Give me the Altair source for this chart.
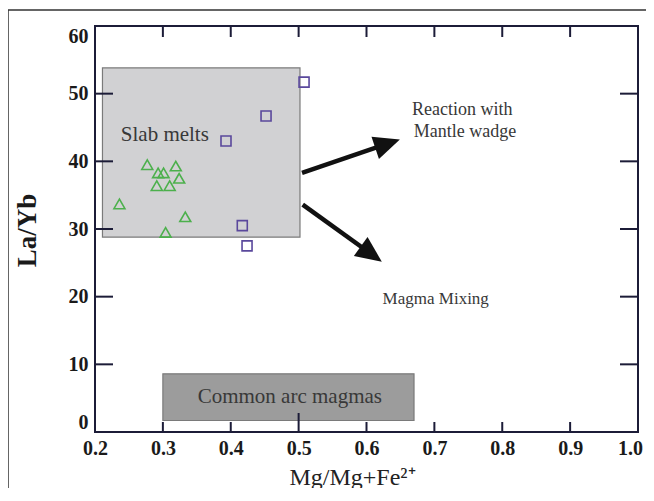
import altair as alt
import pandas as pd

W, H = 543, 406
FONT = "Liberation Serif"
AXC = "#1c1c38"

# --- data ---
tri_x = [0.277, 0.293, 0.301, 0.319, 0.324, 0.291, 0.310, 0.236, 0.333, 0.304]
tri_y = [39.5, 38.3, 38.3, 39.3, 37.5, 36.4, 36.4, 33.7, 31.8, 29.5]
sq_x = [0.508, 0.452, 0.393, 0.417, 0.424]
sq_y = [51.7, 46.7, 43.0, 30.5, 27.5]

box_names = ["Slab melts", "Common arc magmas"]
box_x1 = [0.211, 0.300]
box_x2 = [0.502, 0.670]
box_y1 = [28.8, 1.7]
box_y2 = [53.8, 8.6]
box_fill = ["#d1d1d3", "#9c9c9c"]

arrow_x0 = [0.505, 0.506]
arrow_y0 = [38.3, 33.6]
arrow_hx = [0.631, 0.607]
arrow_hy = [42.6, 26.3]
arrow_angle = [341.4, 35.8]

lab_text = ["Reaction with", "Mantle wadge", "Magma Mixing", "Common arc magmas"]
lab_x = [0.741, 0.745, 0.702, 0.487]
lab_y = [47.6, 44.4, 19.6, 5.2]
lab_size = [18, 18, 17, 21]

x_ticks = [0.2, 0.3, 0.4, 0.5, 0.6, 0.7, 0.8, 0.9, 1.0]
y_ticks = [0, 10, 20, 30, 40, 50, 60]
x_inner = [0.3, 0.4, 0.6, 0.7, 0.8, 0.9]
x_inner_long = [0.5]
x_top = [0.3, 0.4, 0.5, 0.6, 0.7, 0.8, 0.9]
y_inner = [10, 20, 30, 40, 50]

xs = alt.Scale(domain=[0.2, 1.0], nice=False, zero=False)
ys = alt.Scale(domain=[0, 60], nice=False, zero=False)

x_axis = alt.Axis(values=x_ticks, format=".1f", ticks=False, domain=False, grid=False,
                  labelFont=FONT, labelFontSize=20, labelFontWeight="bold",
                  labelColor="#1a1a1a", labelPadding=6, labelFlush=False,
                  labelOffset={"condition": {"test": "datum.value >= 0.99", "value": -8},
                               "value": 0},
                  title="Mg/Mg+Fe²⁺", titleFont=FONT, titleFontSize=24,
                  titleFontWeight="normal", titleColor="#222222",
                  titleX=257, titleY=52, titleAlign="center", titleBaseline="alphabetic")
y_axis = alt.Axis(values=y_ticks, format="d", ticks=False, domain=False, grid=False,
                  labelFont=FONT, labelFontSize=20, labelFontWeight="bold",
                  labelColor="#1a1a1a", labelPadding=7, labelFlush=True,
                  title="La/Yb", titleFont=FONT, titleFontSize=27,
                  titleFontWeight="bold", titleColor="#1a1a1a",
                  titleX=-68, titleY=204, titleAngle=270, titleAlign="center",
                  titleBaseline="middle")


def X(f):
    return alt.X(f, scale=xs, axis=x_axis)


def Y(f):
    return alt.Y(f, scale=ys, axis=y_axis)


boxes = pd.DataFrame({"name": box_names, "x1": box_x1, "x2": box_x2,
                      "y1": box_y1, "y2": box_y2, "fill": box_fill})
tri = pd.DataFrame({"x": tri_x, "y": tri_y})
sq = pd.DataFrame({"x": sq_x, "y": sq_y})
arrows = pd.DataFrame({"x0": arrow_x0, "y0": arrow_y0, "hx": arrow_hx,
                       "hy": arrow_hy, "a": arrow_angle})
labels = pd.DataFrame({"t": lab_text, "x": lab_x, "y": lab_y, "s": lab_size})
slab = pd.DataFrame({"t": ["Slab melts"], "x": [0.238], "y": [43.9]})

rects = alt.Chart(boxes).mark_rect(stroke="#7a7a7a", strokeWidth=1.2).encode(
    x=X("x1:Q"), x2="x2:Q", y=Y("y1:Q"), y2="y2:Q",
    fill=alt.Fill("fill:N", scale=None),
)

tri_layer = alt.Chart(tri).mark_point(shape="triangle-up", filled=False, size=120,
                                      strokeWidth=1.6, color="#4cb04c", opacity=1).encode(
    x=X("x:Q"), y=Y("y:Q"))
sq_layer = alt.Chart(sq).mark_point(shape="square", filled=False, size=100,
                                    strokeWidth=1.6, color="#5a489c", opacity=1).encode(
    x=X("x:Q"), y=Y("y:Q"))

shafts = alt.Chart(arrows).mark_rule(color="#111111", strokeWidth=4.5).encode(
    x=X("x0:Q"), y=Y("y0:Q"), x2="hx:Q", y2="hy:Q")
heads = alt.Chart(arrows).mark_point(shape="M1,0L-1,-0.9L-1,0.9Z", filled=True,
                                     size=676, color="#111111", opacity=1).encode(
    x=X("hx:Q"), y=Y("hy:Q"), angle=alt.Angle("a:Q", scale=None))

text_c = alt.Chart(labels).mark_text(font=FONT, color="#383838", align="center",
                                     baseline="middle").encode(
    x=X("x:Q"), y=Y("y:Q"), text="t:N", size=alt.Size("s:Q", scale=None))
text_l = alt.Chart(slab).mark_text(font=FONT, color="#383838", align="left",
                                   baseline="middle", fontSize=21).encode(
    x=X("x:Q"), y=Y("y:Q"), text="t:N")


def vt(vals):
    return pd.DataFrame({"v": vals})


tb = alt.Chart(vt(x_inner)).mark_rule(color=AXC, strokeWidth=2).encode(
    x=X("v:Q"), y=alt.value(H), y2=alt.value(H - 10))
tbl = alt.Chart(vt(x_inner_long)).mark_rule(color=AXC, strokeWidth=2).encode(
    x=X("v:Q"), y=alt.value(H), y2=alt.value(H - 19))
tt = alt.Chart(vt(x_top)).mark_rule(color=AXC, strokeWidth=2).encode(
    x=X("v:Q"), y=alt.value(0), y2=alt.value(11))
tl = alt.Chart(vt(y_inner)).mark_rule(color=AXC, strokeWidth=2).encode(
    y=Y("v:Q"), x=alt.value(0), x2=alt.value(18))
tr = alt.Chart(vt(y_inner)).mark_rule(color=AXC, strokeWidth=2).encode(
    y=Y("v:Q"), x=alt.value(W), x2=alt.value(W - 18))

frame = alt.Chart(vt([0])).mark_rect(fill=None, stroke="#333333", strokeWidth=1.5,
                                     clip=False).encode(
    x=alt.value(-87), x2=alt.value(700), y=alt.value(-16), y2=alt.value(600))

chart = alt.layer(
    rects, tri_layer, sq_layer, shafts, heads, text_c, text_l,
    tb, tbl, tt, tl, tr, frame
).properties(
    width=W, height=H,
    autosize=alt.AutoSizeParams(type="none"),
    padding={"left": 87, "top": 18, "right": 8, "bottom": 56},
    background="white",
).configure_view(
    stroke=AXC, strokeWidth=2
)

chart.save("out.html", embed_options={"renderer": "svg", "actions": False})
